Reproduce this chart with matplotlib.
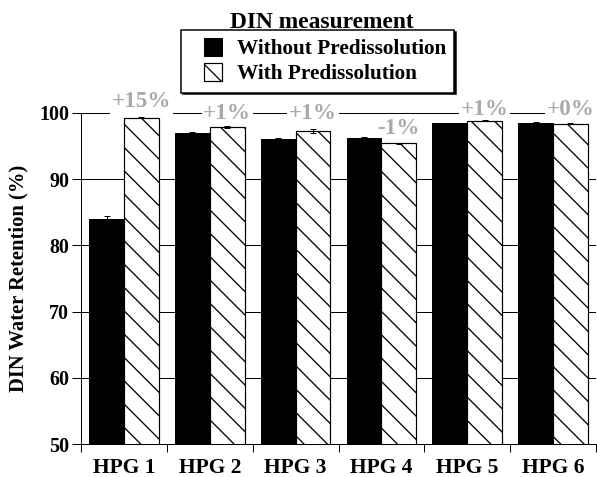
import numpy as np
import matplotlib
matplotlib.use("Agg")
import matplotlib.pyplot as plt
from matplotlib.patches import Rectangle
from matplotlib.container import BarContainer
from matplotlib.legend_handler import HandlerPatch, update_from_first_child

# data
groups = ["HPG 1", "HPG 2", "HPG 3", "HPG 4", "HPG 5", "HPG 6"]
without_pre = [84.0, 97.0, 96.0, 96.2, 98.45, 98.45]
without_err = [0.4, 0.1, 0.25, 0.1, 0.1, 0.15]
with_pre = [99.3, 97.9, 97.3, 95.4, 98.85, 98.4]
with_err = [0.1, 0.1, 0.35, 0.1, 0.1, 0.1]
change_text = ["+15%", "+1%", "+1%", "-1%", "+1%", "+0%"]
change_base = [100.9, 99.1, 99.1, 96.8, 99.7, 99.7]   # baseline of the grey labels
yticks = [50, 60, 70, 80, 90, 100]

DPI = 70
W, H = 597, 477


def pt(pixels):
    # pixels -> points at the figure dpi
    return pixels * 72.0 / DPI


plt.rcParams["font.family"] = ["Liberation Serif", "DejaVu Serif"]
plt.rcParams["font.weight"] = "bold"
plt.rcParams["hatch.linewidth"] = pt(1.3)

fig = plt.figure(figsize=(W / DPI, H / DPI), dpi=DPI)
ax = fig.add_axes([81 / W, 1 - 444 / H, (596 - 81) / W, (444 - 113) / H])

x = np.arange(len(groups))
bw = 0.405

ax.bar(x - bw / 2, without_pre, bw, color="black", edgecolor="black",
       linewidth=pt(1), yerr=without_err, capsize=pt(3),
       error_kw=dict(elinewidth=pt(1), capthick=pt(1), ecolor="black"),
       label="Without Predissolution")
ax.bar(x + bw / 2, with_pre, bw, color="white", edgecolor="black",
       linewidth=pt(1.2), hatch="\\", yerr=with_err, capsize=pt(3),
       error_kw=dict(elinewidth=pt(1), capthick=pt(1), ecolor="black"),
       label="With Predissolution")

for xi, txt, yb in zip(x, change_text, change_base):
    ax.text(xi + bw / 2, yb, txt, ha="center", va="baseline",
            color="#a9a9a9", fontsize=pt(23), fontweight="bold",
            bbox=dict(fc="white", ec="none", pad=pt(1.5)), zorder=0.9)

ax.set_xlim(-0.5, 5.5)
ax.set_ylim(50, 100)
ax.set_yticks(yticks)
ax.grid(axis="y", color="black", linewidth=pt(1))
ax.set_axisbelow(True)

ax.set_xticks(np.arange(-0.5, 6.0, 1.0))
ax.set_xticklabels([])
ax.set_xticks(x, minor=True)
ax.set_xticklabels(groups, minor=True)
ax.tick_params(axis="x", which="major", length=pt(8), width=pt(1), direction="out")
ax.tick_params(axis="x", which="minor", length=0, pad=pt(14), labelsize=pt(21.5))
ax.tick_params(axis="y", length=pt(9), width=pt(1), pad=pt(3), labelsize=pt(20))

for s in ["top", "right"]:
    ax.spines[s].set_visible(False)
for s in ["left", "bottom"]:
    ax.spines[s].set_linewidth(pt(1))

ax.set_ylabel("DIN Water Retention (%)", fontsize=pt(20.6), fontweight="bold")
ax.yaxis.set_label_coords(-(81 - 18) / (596 - 81), 0.5)
ax.yaxis.label.set_va("center")


def small_square(legend, orig_handle, xdescent, ydescent, width, height, fontsize):
    side = height * 1.05
    return Rectangle((-xdescent + width - side, -ydescent), side, height)


handles, labels = ax.get_legend_handles_labels()
leg = fig.legend(handles, labels, loc="upper left",
                 bbox_to_anchor=(181 / W, 1 - 30 / H), bbox_transform=fig.transFigure,
                 borderaxespad=0, fancybox=False, edgecolor="black", framealpha=1,
                 shadow={"color": "black", "alpha": 1},
                 prop=dict(size=pt(21.2), weight="bold"),
                 handlelength=33 / 21.2, handleheight=19 / 21.2,
                 handletextpad=15 / 21.2, borderpad=0.38, labelspacing=0.2,
                 handler_map={BarContainer: HandlerPatch(
                     patch_func=small_square, update_func=update_from_first_child)})
leg.get_frame().set_linewidth(pt(1.5))

fig.text(322 / W, 1 - 28 / H, "DIN measurement", ha="center", va="baseline",
         fontsize=pt(23.5), fontweight="bold")

fig.savefig("out.png", dpi=DPI)
